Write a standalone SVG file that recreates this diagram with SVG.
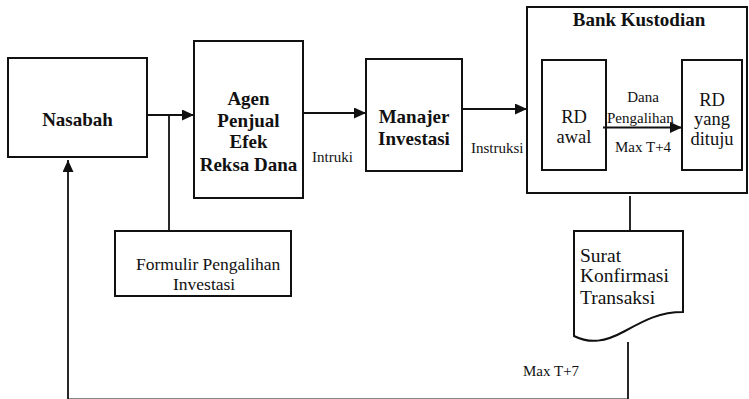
<svg xmlns="http://www.w3.org/2000/svg" width="749" height="399" viewBox="0 0 749 399">
<defs>
<style>
.box{fill:#fff;stroke:#111;stroke-width:2}
.frame{fill:none;stroke:#111;stroke-width:2}
.ln{fill:none;stroke:#111;stroke-width:1.8}
.b{font-family:"Liberation Serif","Times New Roman",serif;font-weight:bold;font-size:19px;fill:#111}
.t{font-family:"Liberation Serif","Times New Roman",serif;font-size:15px;fill:#111}
.rd{font-size:18.5px}
.m{text-anchor:middle}
</style>
<marker id="ah" markerUnits="userSpaceOnUse" markerWidth="12" markerHeight="11" refX="12" refY="5.5" orient="auto">
<path d="M0,0 L12,5.5 L0,11 z" fill="#111"/>
</marker>
</defs>
<rect width="749" height="399" fill="#fff"/>
<g id="bank">
<rect class="frame" x="527" y="7" width="220" height="186"/>
<text class="b m" x="639" y="26">Bank Kustodian</text>
</g>
<g id="connectors">
<line class="ln" x1="147" y1="115" x2="194" y2="115" marker-end="url(#ah)"/>
<line class="ln" x1="169" y1="115" x2="169" y2="231"/>
<line class="ln" x1="303" y1="113" x2="366" y2="113" marker-end="url(#ah)"/>
<line class="ln" x1="462" y1="109" x2="527" y2="109" marker-end="url(#ah)"/>
<line class="ln" x1="603" y1="127.5" x2="682" y2="127.5" marker-end="url(#ah)"/>
<line class="ln" x1="630" y1="196" x2="630" y2="231"/>
<path class="ln" d="M628,342 V399.3 H68 V160" marker-end="url(#ah)"/>
</g>
<g id="nasabah">
<rect class="box" x="8" y="58" width="139" height="99"/>
<text class="b m" x="77.5" y="126">Nasabah</text>
</g>
<g id="agen">
<rect class="box" x="194" y="41" width="109" height="157"/>
<text class="b m" x="248.5" y="105">Agen</text>
<text class="b m" x="248.5" y="127">Penjual</text>
<text class="b m" x="248.5" y="148">Efek</text>
<text class="b m" x="248.5" y="171">Reksa Dana</text>
</g>
<g id="manajer">
<rect class="box" x="366" y="59" width="96" height="112"/>
<text class="b m" x="414" y="123">Manajer</text>
<text class="b m" x="414" y="145">Investasi</text>
</g>
<g id="rd-awal">
<rect class="frame" x="542" y="60" width="64" height="110"/>
<text class="t rd m" x="574" y="123">RD</text>
<text class="t rd m" x="574" y="143">awal</text>
</g>
<g id="rd-dituju">
<rect class="box" x="682" y="60" width="60" height="110"/>
<text class="t rd m" x="712" y="106">RD</text>
<text class="t rd m" x="712" y="125">yang</text>
<text class="t rd m" x="712" y="145">dituju</text>
</g>
<g id="formulir">
<rect class="box" x="115" y="231" width="176" height="65"/>
<text class="t" style="font-size:17.5px" x="136" y="270">Formulir Pengalihan</text>
<text class="t" style="font-size:17.5px" x="173" y="290">Investasi</text>
</g>
<g id="surat">
<path class="box" d="M574,231 H683 V312 C660,312 645,320 625,331 C605,342 590,344 574,336 Z"/>
<text class="t" style="font-size:19.5px" x="580" y="262">Surat</text>
<text class="t" style="font-size:19.5px" x="580" y="282">Konfirmasi</text>
<text class="t" style="font-size:19.5px" x="580" y="304">Transaksi</text>
</g>
<g id="labels">
<text class="t" x="312" y="162">Intruki</text>
<text class="t" x="471" y="153">Instruksi</text>
<text class="t m" x="643" y="102">Dana</text>
<text class="t" x="607" y="123">Pengalihan</text>
<text class="t" x="615" y="152">Max T+4</text>
<text class="t" x="523" y="376">Max T+7</text>
</g>
</svg>
